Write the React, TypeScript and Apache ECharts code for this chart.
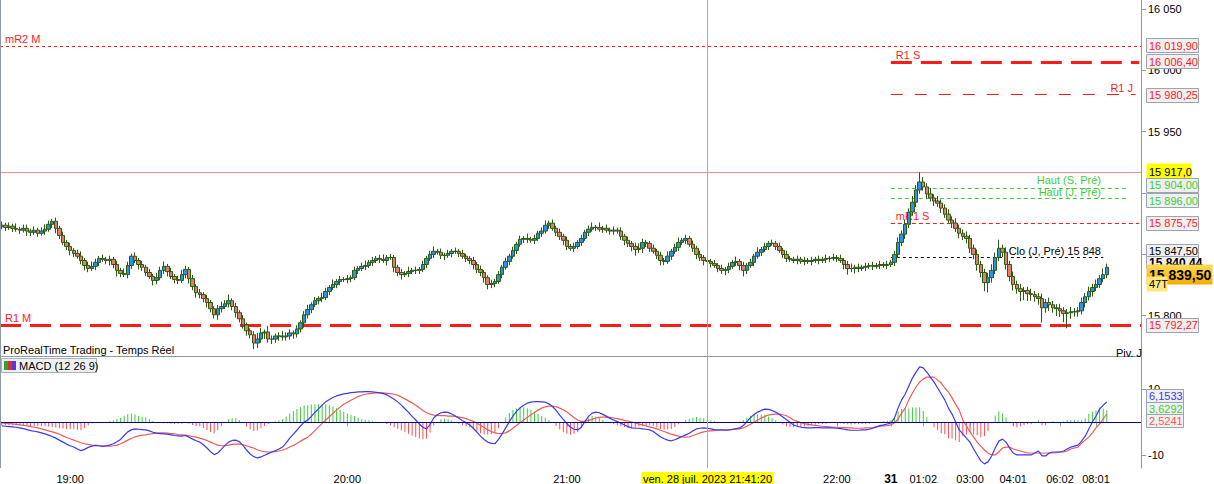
import React, { useEffect, useRef } from "react";
import * as echarts from "echarts";

// ---------------- DATA ----------------
const slotCount = 317;
const firstOpen = 15872.5;
const closes = [
  15873.75, 15872, 15873, 15871.25, 15870.5, 15869.75, 15871.25, 15869, 15868, 15869.75,
  15867.25, 15869, 15870.5, 15874.5, 15877, 15871.25, 15865.5, 15859.75, 15856.5, 15853.25,
  15850.75, 15848.5, 15845, 15841, 15838.5, 15840.25, 15843.5, 15846.75, 15846, 15845,
  15846, 15841.75, 15837, 15834.5, 15833.5, 15841, 15848.5, 15845, 15841.75, 15839.5,
  15835.25, 15832, 15828.75, 15831, 15837, 15840.25, 15836, 15832, 15829.5, 15828.75,
  15833.5, 15837.75, 15830.25, 15823.75, 15818.75, 15817.25, 15814, 15810.75, 15805.75, 15800.75,
  15805.75, 15807.5, 15809.75, 15812.25, 15807.5, 15802.5, 15797.5, 15792.5, 15787.75, 15784.5,
  15777.75, 15781, 15786, 15786.75, 15781, 15781, 15783.5, 15783.5, 15782.75, 15783.5,
  15786, 15785.25, 15789.25, 15794.25, 15800.75, 15805, 15809, 15812.25, 15814, 15814.75,
  15819.75, 15823, 15825.5, 15828, 15829.5, 15829.5, 15830.25, 15831, 15837, 15838.5,
  15840.25, 15841, 15843.5, 15845, 15846.75, 15846, 15845, 15847.5, 15847.5, 15839.5,
  15835.25, 15833.5, 15834.5, 15836, 15837, 15837, 15837.75, 15841.75, 15846.75, 15850,
  15852.5, 15851.75, 15849.25, 15849.25, 15850.75, 15852.5, 15852.5, 15850.75, 15848.5, 15846.75,
  15845, 15841.75, 15837.75, 15835.25, 15831, 15825.5, 15826.25, 15828, 15833.5, 15839.5,
  15844.25, 15848.5, 15853.25, 15858.25, 15862.25, 15863, 15862.25, 15861.5, 15863, 15867.25,
  15869, 15873.75, 15875.5, 15871.25, 15868, 15864.75, 15861.5, 15856.5, 15855, 15856.5,
  15859.75, 15863, 15868, 15870.5, 15872, 15872, 15870.5, 15871.25, 15869.75, 15869,
  15869.75, 15869, 15864.75, 15861.5, 15859, 15856.5, 15854, 15855, 15859.75, 15859,
  15855, 15852.5, 15849.25, 15845, 15844.25, 15848.5, 15852.5, 15855.75, 15859.75, 15861.5,
  15863, 15858.25, 15855, 15850, 15847.5, 15845, 15844.25, 15842.5, 15841, 15838.5,
  15837, 15837.75, 15840.25, 15843.5, 15844.25, 15841, 15837, 15841, 15843.5, 15848.5,
  15851.75, 15854, 15856.5, 15859, 15859, 15856.5, 15853.25, 15850, 15846.75, 15846,
  15845, 15846, 15844.25, 15845, 15844.25, 15845, 15846, 15845, 15846, 15846.75,
  15846.75, 15847.5, 15846.75, 15845, 15841.75, 15838.5, 15838.5, 15839.5, 15838.5, 15839.5,
  15840.25, 15841, 15840.25, 15841, 15841.75, 15841, 15841.75, 15843.5, 15850, 15859.75,
  15866.5, 15874.5, 15884.5, 15892.5, 15902.5, 15909, 15905, 15899.25, 15896, 15893.5,
  15891.75, 15887.75, 15882.75, 15878, 15875.5, 15871.25, 15867.25, 15864.75, 15863, 15855,
  15850, 15841.75, 15835.25, 15827, 15831, 15837, 15847.5, 15855, 15851.75, 15841.75,
  15832, 15825.5, 15822, 15819.75, 15820.5, 15818, 15817.25, 15815.5, 15814, 15806.5,
  15810.75, 15809, 15806.5, 15805.75, 15804, 15801.75, 15802.5, 15803.25, 15803.25, 15804,
  15810.75, 15815.5, 15819.75, 15823, 15825.5, 15830.25, 15833.5, 15839.5,
];
const upWick = [
  3, 2, 3, 2, 4, 2, 3, 3, 2, 3, 2, 3, 4, 3, 2, 3, 2, 3, 2, 3,
  2, 3, 4, 2, 3, 4, 3, 2, 3, 2, 3, 2, 3, 2, 4, 3, 2, 3, 2, 3,
  2, 3, 2, 4, 3, 4, 2, 3, 2, 3, 4, 3, 2, 3, 2, 3, 2, 3, 2, 2,
  3, 4, 3, 5, 2, 3, 2, 3, 2, 2, 3, 5, 4, 2, 5, 3, 2, 3, 4, 3,
  3, 2, 3, 2, 3, 4, 2, 3, 2, 4, 3, 2, 4, 2, 3, 2, 3, 2, 3, 2,
  3, 4, 2, 3, 2, 3, 4, 2, 3, 2, 2, 3, 2, 4, 2, 3, 2, 3, 2, 3,
  4, 2, 3, 2, 3, 2, 3, 2, 3, 2, 2, 3, 2, 3, 2, 2, 3, 2, 3, 2,
  3, 2, 3, 2, 3, 2, 4, 2, 3, 2, 3, 4, 2, 3, 2, 3, 2, 3, 2, 3,
  2, 3, 2, 3, 4, 2, 4, 2, 3, 2, 3, 2, 3, 2, 3, 2, 3, 4, 3, 2,
  2, 3, 2, 3, 2, 4, 2, 3, 4, 2, 3, 2, 3, 2, 3, 2, 3, 2, 3, 2,
  3, 2, 3, 2, 4, 2, 3, 2, 3, 2, 4, 2, 3, 2, 3, 2, 3, 2, 3, 2,
  2, 3, 2, 3, 2, 3, 2, 3, 2, 3, 2, 3, 2, 3, 2, 3, 4, 2, 3, 2,
  3, 2, 3, 2, 3, 2, 3, 2, 3, 4, 3, 4, 3, 5, 4, 8, 4, 3, 5, 3,
  4, 3, 3, 4, 3, 4, 3, 3, 4, 3, 3, 4, 3, 3, 4, 5, 4, 7, 3, 4,
  3, 4, 3, 4, 3, 3, 4, 3, 3, 4, 3, 4, 3, 3, 4, 3, 3, 4, 3, 3,
  4, 3, 4, 3, 4, 3, 5, 3,
];
const dnWick = [
  2, 3, 2, 3, 2, 3, 2, 4, 3, 2, 3, 2, 3, 2, 3, 4, 3, 2, 3, 4,
  3, 2, 3, 4, 3, 2, 3, 3, 2, 3, 4, 3, 5, 3, 2, 3, 3, 2, 4, 3,
  3, 2, 4, 3, 2, 3, 4, 2, 3, 3, 2, 3, 4, 3, 4, 3, 3, 4, 3, 3,
  4, 3, 2, 3, 3, 4, 3, 3, 4, 3, 5, 4, 3, 5, 3, 4, 3, 4, 3, 3,
  3, 4, 3, 3, 4, 3, 3, 2, 3, 3, 2, 3, 2, 3, 3, 2, 3, 3, 2, 3,
  2, 3, 2, 3, 2, 3, 2, 4, 2, 4, 3, 4, 2, 3, 2, 3, 3, 2, 3, 2,
  3, 2, 3, 4, 2, 3, 2, 3, 2, 3, 3, 4, 3, 3, 4, 4, 3, 3, 2, 3,
  2, 3, 2, 3, 2, 3, 3, 2, 3, 2, 3, 2, 3, 2, 3, 3, 4, 3, 2, 3,
  2, 3, 2, 3, 2, 3, 2, 3, 2, 3, 3, 2, 3, 4, 3, 4, 5, 3, 4, 3,
  3, 2, 3, 4, 3, 2, 3, 2, 3, 2, 3, 2, 3, 4, 3, 4, 3, 3, 2, 3,
  3, 4, 3, 2, 3, 4, 5, 3, 2, 3, 2, 3, 2, 3, 2, 3, 2, 3, 3, 2,
  2, 3, 2, 3, 2, 3, 2, 3, 2, 3, 3, 2, 3, 2, 4, 5, 3, 4, 3, 2,
  3, 2, 3, 2, 3, 2, 3, 2, 3, 3, 3, 4, 3, 3, 4, 3, 3, 4, 3, 4,
  3, 4, 3, 3, 4, 3, 4, 3, 4, 4, 4, 5, 4, 7, 8, 4, 3, 3, 4, 4,
  4, 5, 4, 8, 7, 6, 5, 4, 5, 12, 4, 5, 4, 6, 5, 7, 12, 5, 4, 4,
  3, 4, 3, 4, 3, 3, 3, 3,
];
const macdLine = [
  -1.1, -1.2, -1.3, -1.4, -1.5, -1.7, -1.9, -2.2, -2.5, -2.7,
  -2.9, -3.2, -3.5, -3.9, -4.3, -4.8, -5.4, -6.0, -6.6, -7.1,
  -7.5, -8.1, -8.6, -8.2, -7.6, -7.2, -7.0, -7.1, -7.3, -7.1,
  -6.9, -6.5, -5.9, -5.2, -4.0, -2.9, -2.3, -2.0, -2.1, -2.2,
  -2.3, -2.6, -3.0, -3.3, -3.4, -3.5, -3.6, -3.8, -4.0, -4.1,
  -4.2, -4.0, -4.5, -5.1, -5.6, -6.0, -6.8, -7.8, -8.9, -9.8,
  -9.3, -8.2, -7.0, -6.0, -5.5, -5.4, -5.9, -7.0, -8.4, -9.6,
  -10.4, -10.8, -10.5, -10.0, -9.5, -9.0, -8.6, -8.1, -7.5, -6.2,
  -4.8, -3.6, -2.4, -1.1, 0.0, 0.7, 1.8, 3.0, 4.1, 5.2,
  6.2, 6.9, 7.5, 8.0, 8.3, 8.6, 8.8, 9.0, 9.1, 9.2,
  9.2, 9.3, 9.3, 9.2, 9.1, 8.9, 8.7, 8.3, 7.7, 7.0,
  6.2, 5.2, 4.1, 3.0, 1.8, 0.7, -0.5, -1.5, -2.0, -0.6,
  1.3, 2.3, 2.9, 3.1, 3.0, 2.5, 1.9, 1.2, 0.5, -0.1,
  -0.8, -1.8, -3.0, -4.2, -5.2, -6.0, -6.4, -6.5, -5.2, -3.5,
  -1.7, 0.2, 1.9, 3.3, 4.4, 5.2, 5.8, 6.1, 6.3, 6.3,
  6.2, 6.1, 5.6, 4.8, 3.6, 2.2, 0.9, -0.4, -1.5, -2.1,
  -2.3, -1.5, 0.2, 1.8, 2.8, 3.1, 2.9, 2.4, 1.8, 1.2,
  0.7, 0.2, -0.3, -0.8, -1.3, -1.7, -1.8, -1.8, -2.0, -2.1,
  -2.3, -2.8, -3.6, -4.4, -5.0, -5.4, -5.6, -5.3, -4.8, -4.3,
  -3.8, -3.3, -2.6, -2.0, -1.8, -1.7, -1.8, -2.0, -2.2, -2.3,
  -2.3, -2.4, -2.3, -2.1, -1.9, -1.7, -1.0, 0.2, 1.4, 2.4,
  3.1, 3.6, 4.0, 3.9, 3.6, 3.1, 2.4, 1.6, 0.8, 0.0,
  -0.8, -1.2, -1.5, -1.6, -1.7, -1.7, -1.6, -1.6, -1.7, -1.7,
  -1.7, -1.7, -1.8, -1.9, -2.1, -2.3, -2.4, -2.4, -2.4, -2.3,
  -2.3, -2.1, -1.8, -1.4, -1.0, -0.8, -0.5, -0.2, 1.3, 4.3,
  6.8, 8.6, 11.0, 13.4, 15.2, 16.8, 16.5, 15.2, 13.7, 12.2,
  10.4, 8.6, 6.8, 4.3, 2.5, 0.1, -2.3, -3.5, -4.8, -6.0,
  -8.1, -9.9, -11.7, -12.6, -12.0, -10.2, -7.8, -5.7, -5.1, -6.0,
  -7.8, -9.3, -9.9, -9.9, -9.9, -9.9, -9.9, -9.3, -8.7, -10.2,
  -10.2, -9.3, -9.0, -9.0, -9.0, -8.7, -8.1, -7.5, -7.2, -6.9,
  -5.7, -4.2, -2.0, 0.1, 1.9, 4.0, 5.2, 6.1533,
];
const signalLine = [
  -0.2, -0.3, -0.4, -0.5, -0.6, -0.8, -0.9, -1.1, -1.3, -1.5,
  -1.7, -2.0, -2.3, -2.6, -2.9, -3.2, -3.6, -4.1, -4.6, -5.0,
  -5.4, -5.8, -6.2, -6.5, -6.7, -6.9, -7.0, -7.1, -7.2, -7.2,
  -7.2, -7.1, -6.9, -6.5, -6.0, -5.4, -4.9, -4.4, -4.1, -3.9,
  -3.8, -3.6, -3.4, -3.3, -3.2, -3.2, -3.3, -3.4, -3.5, -3.7,
  -3.8, -3.9, -4.1, -4.3, -4.5, -4.8, -5.1, -5.5, -6.0, -6.5,
  -6.9, -7.1, -7.1, -6.9, -6.7, -6.6, -6.6, -6.8, -7.1, -7.5,
  -7.8, -8.3, -8.7, -8.9, -9.0, -9.0, -8.9, -8.7, -8.4, -8.0,
  -7.5, -7.0, -6.4, -5.7, -5.1, -4.5, -3.6, -2.5, -1.4, -0.3,
  0.7, 1.7, 2.7, 3.7, 4.6, 5.5, 6.1, 6.7, 7.2, 7.8,
  8.2, 8.5, 8.7, 8.8, 8.9, 8.9, 8.9, 8.8, 8.7, 8.5,
  8.2, 7.7, 7.1, 6.5, 5.9, 5.2, 4.4, 3.6, 2.9, 2.5,
  2.2, 2.1, 2.0, 2.0, 1.9, 1.9, 1.8, 1.6, 1.4, 1.1,
  0.7, 0.3, -0.3, -0.9, -1.6, -2.3, -2.8, -3.2, -3.4, -3.4,
  -3.2, -2.6, -1.8, -0.9, -0.1, 0.7, 1.5, 2.3, 3.0, 3.7,
  4.3, 4.7, 4.9, 4.9, 4.7, 4.3, 3.8, 3.1, 2.3, 1.4,
  0.7, 0.3, 0.3, 0.6, 0.9, 1.3, 1.5, 1.6, 1.6, 1.5,
  1.3, 1.1, 0.9, 0.6, 0.4, 0.1, -0.2, -0.5, -0.8, -1.1,
  -1.4, -1.7, -2.0, -2.4, -2.8, -3.2, -3.6, -3.9, -4.2, -4.4,
  -4.5, -4.4, -4.0, -3.6, -3.2, -2.9, -2.7, -2.6, -2.5, -2.4,
  -2.3, -2.3, -2.3, -2.2, -2.1, -2.0, -1.7, -1.2, -0.6, 0.0,
  0.7, 1.3, 1.8, 2.2, 2.4, 2.5, 2.5, 2.3, 2.0, 1.4,
  0.7, 0.3, -0.1, -0.4, -0.6, -0.8, -0.9, -1.1, -1.2, -1.3,
  -1.4, -1.5, -1.5, -1.6, -1.6, -1.7, -1.7, -1.8, -1.8, -1.8,
  -1.7, -1.7, -1.6, -1.4, -1.2, -1.1, -1.0, -0.8, -0.2, 1.0,
  2.8, 4.3, 6.8, 8.9, 10.7, 12.2, 13.1, 13.7, 13.7, 13.7,
  12.8, 11.9, 10.4, 9.2, 7.4, 5.5, 3.7, 0.7, -1.1, -2.9,
  -4.5, -6.0, -7.2, -8.4, -9.3, -9.9, -9.9, -9.0, -7.8, -7.5,
  -7.5, -8.1, -8.4, -8.7, -9.0, -9.3, -9.3, -9.3, -9.3, -9.3,
  -9.3, -9.3, -9.3, -9.2, -9.0, -9.0, -8.7, -8.1, -7.8, -7.5,
  -6.3, -5.4, -4.5, -3.2, -1.7, -0.5, 1.0, 2.5241,
];

const timeLabelIdx = [19, 96, 157, 232, 247, 256, 269, 281, 294, 304];
const timeLabels = ["19:00", "20:00", "21:00", "22:00", "31", "01:02", "03:00", "04:01", "06:02", "08:01"];
const priceTicks = [15800, 15850, 15900, 15950, 16000, 16050];
const macdTicks = [-10, 10];

const levelNames = ["mR2 M", "R1 S", "R1 J", "Haut (S, Pré)", "Haut (J, Pré)", "mR1 S", "Clo (J, Pré)", "R1 M"];
const levelValues = [16019.9, 16006.4, 15980.25, 15904.0, 15896.0, 15875.75, 15847.5, 15792.27];

const crossValue = 15917.0;
const crossIndex = 196;
const crossText = "ven. 28 juil. 2023 21:41:20";
const otherValue = 15840.44;
const barTickText = "47T";
const macdTitle = "MACD (12 26 9)";
const panelTitle = "ProRealTime Trading - Temps Réel";
const pivotText = "Piv. J";

// ---------------- HELPERS ----------------
const FONT = "'Liberation Sans', Arial, Helvetica, sans-serif";

function fr(v: number, d: number) {
  const s = Math.abs(v).toFixed(d);
  const [ip, dp] = s.split(".");
  const g = ip.replace(/\B(?=(\d{3})+(?!\d))/g, " ");
  return (v < 0 ? "-" : "") + g + (dp ? "," + dp : "");
}

const RED = "#ff1a1a";
const GREEN = "#3ccf3c";

export default function App() {
  const ref = useRef<HTMLDivElement>(null);

  useEffect(() => {
    const el = ref.current!;
    const chart = echarts.init(el, null, { renderer: "svg" });

    const cats = Array.from({ length: slotCount }, (_, i) => String(i));
    const labelMap: Record<string, string> = {};
    timeLabelIdx.forEach((idx, k) => (labelMap[String(idx)] = timeLabels[k]));

    const candles = closes.map((c, i) => {
      const o = i === 0 ? firstOpen : closes[i - 1];
      const hi = Math.max(o, c) + upWick[i];
      const lo = Math.min(o, c) - dnWick[i];
      return [o, c, lo, hi];
    });
    const hist = macdLine.map((m, i) => +(m - signalLine[i]).toFixed(4));

    const startIdx = timeLabelIdx[4];
    const levelStyle = [
      { color: RED, width: 1, type: [3, 3], from: null, to: null },
      { color: RED, width: 3, type: [21, 9], from: startIdx, to: slotCount - 1 },
      { color: RED, width: 1, type: [12, 12], from: startIdx, to: slotCount - 2 },
      { color: GREEN, width: 1, type: [4, 3], from: startIdx, to: slotCount - 4 },
      { color: GREEN, width: 1, type: [4, 3], from: startIdx, to: slotCount - 4 },
      { color: RED, width: 1, type: [4, 3], from: startIdx, to: slotCount - 1 },
      { color: "#000000", width: 1, type: [3, 3], from: startIdx, to: slotCount - 11 },
      { color: RED, width: 3, type: [21, 9], from: null, to: null },
    ];

    const markData: any[] = levelValues.map((v, k) => {
      const st = levelStyle[k];
      const ls = { color: st.color, width: st.width, type: st.type };
      if (st.from === null) return { yAxis: v, lineStyle: ls };
      return [
        { coord: [st.from, v], lineStyle: ls },
        { coord: [st.to, v] },
      ];
    });
    markData.push({ yAxis: crossValue, lineStyle: { color: "#f28b8b", width: 1, type: "solid" } });

    const gridLine = { show: true, lineStyle: { color: "#8e9ba7", width: 1 } };

    const option: any = {
      animation: false,
      backgroundColor: "#ffffff",
      textStyle: { fontFamily: FONT },
      grid: [
        { left: 0, right: 73, top: 0, height: 356, outerBoundsMode: "none", containLabel: false },
        { left: 0, right: 73, top: 357, height: 111, outerBoundsMode: "none", containLabel: false },
      ],
      xAxis: [
        {
          type: "category", gridIndex: 0, data: cats, boundaryGap: true,
          axisLine: gridLine, axisTick: { show: false }, axisLabel: { show: false }, splitLine: { show: false },
        },
        {
          type: "category", gridIndex: 1, data: cats, boundaryGap: true,
          axisLine: { show: true, lineStyle: { color: "#8e9ba7", width: 1, type: [2, 2] } },
          axisTick: {
            show: true, length: 4, alignWithLabel: true,
            interval: (i: number) => labelMap[String(i)] !== undefined,
            lineStyle: { color: "#8e9ba7" },
          },
          axisLabel: {
            interval: (i: number) => labelMap[String(i)] !== undefined,
            formatter: (v: string) => {
              const t = labelMap[v] || "";
              return t === timeLabels[4] ? "{b|" + t + "}" : t;
            },
            rich: { b: { fontWeight: "bold", fontSize: 12, fontFamily: FONT, color: "#000" } },
            color: "#000", fontSize: 11, fontFamily: FONT, margin: 5,
          },
          splitLine: { show: false },
        },
      ],
      yAxis: [
        {
          type: "value", gridIndex: 0, position: "right", min: 15767.2, max: 16057.3, scale: true,
          axisLine: gridLine,
          axisTick: { show: true, length: 5, customValues: priceTicks, lineStyle: { color: "#8e9ba7" } },
          axisLabel: {
            customValues: priceTicks, formatter: (v: number) => fr(v, 0),
            color: "#000", fontSize: 11, fontFamily: FONT, margin: 7,
          },
          splitLine: { show: false },
        },
        {
          type: "value", gridIndex: 1, position: "right", min: -13.85, max: 19.8,
          axisLine: gridLine,
          axisTick: { show: true, length: 5, customValues: macdTicks, lineStyle: { color: "#8e9ba7" } },
          axisLabel: {
            customValues: macdTicks, formatter: (v: number) => fr(v, 0),
            color: "#000", fontSize: 11, fontFamily: FONT, margin: 7,
          },
          splitLine: { show: false },
        },
      ],
      series: [
        {
          type: "candlestick", xAxisIndex: 0, yAxisIndex: 0, data: candles, barWidth: 4, z: 3,
          itemStyle: {
            color: "#2b93e6", color0: "#e0806c",
            borderColor: "#2c5a10", borderColor0: "#2c5a10", borderWidth: 1,
          },
          markLine: {
            silent: true, symbol: ["none", "none"], animation: false,
            label: { show: false }, emphasis: { disabled: true },
            data: markData, z: 2,
          },
        },
        {
          type: "bar", xAxisIndex: 1, yAxisIndex: 1, barWidth: 1, z: 2,
          data: hist.map((h) => ({ value: h, itemStyle: { color: h >= 0 ? "#3ccc3c" : "#ff4d4d" } })),
          markLine: {
            silent: true, symbol: ["none", "none"], label: { show: false },
            lineStyle: { color: "#00008b", width: 1.2, type: "solid" },
            data: [{ yAxis: 0 }], z: 6,
          },
        },
        {
          type: "line", xAxisIndex: 1, yAxisIndex: 1, data: signalLine, symbol: "none", z: 4,
          lineStyle: { color: "#f05a5a", width: 1.2 },
        },
        {
          type: "line", xAxisIndex: 1, yAxisIndex: 1, data: macdLine, symbol: "none", z: 5,
          lineStyle: { color: "#3a3af0", width: 1.2 },
        },
      ],
    };

    chart.setOption(option);

    const py = (v: number) => chart.convertToPixel({ yAxisIndex: 0 } as any, v) as number;
    const my = (v: number) => chart.convertToPixel({ yAxisIndex: 1 } as any, v) as number;
    const px = (i: number) => chart.convertToPixel({ xAxisIndex: 0 } as any, i) as number;

    const G: any[] = [];
    const text = (x: number, y: number, t: string, fill: string, o: any = {}) => ({
      type: "text", x, y, z: o.z ?? 40, silent: true,
      style: {
        text: t, fill, font: `${o.weight || "normal"} ${o.size || 11}px ${FONT}`,
        textAlign: o.align || "left", textVerticalAlign: "middle", verticalAlign: "middle",
      },
    });
    let zc = 60;
    const box = (x: number, yc: number, w: number, h: number, fill: any, stroke: string | null, t: string, color: string, o: any = {}) => {
      zc += 2;
      G.push({
        type: "rect", z: zc, silent: true,
        shape: { x: x + 0.5, y: Math.round(yc - h / 2) + 0.5, width: w, height: h },
        style: { fill, stroke: stroke || "none", lineWidth: 1 },
      });
      G.push(text(x + 3, yc + 0.5, t, color, { ...o, z: zc + 1 }));
    };

    // left frame + crosshair
    G.push({ type: "line", z: 30, silent: true, shape: { x1: 0.5, y1: 0, x2: 0.5, y2: 468 }, style: { stroke: "#8e9ba7", lineWidth: 1 } });
    const cx = Math.round(px(crossIndex)) + 0.5;
    G.push({ type: "line", z: 30, silent: true, shape: { x1: cx, y1: 0, x2: cx, y2: 468 }, style: { stroke: "#f28b8b", lineWidth: 1 } });

    // level labels on the chart
    const labelPos = [
      { x: 5, dy: -7, align: "left" },
      { x: px(startIdx) + 5, dy: -7.5, align: "left" },
      { x: 1133, dy: -7, align: "right" },
      { x: 1101, dy: -8, align: "right" },
      { x: 1101, dy: -6, align: "right" },
      { x: px(startIdx) + 5, dy: -7, align: "left", z: 1 },
      { x: 1101, dy: -6, align: "right" },
      { x: 5, dy: -7, align: "left" },
    ];
    levelNames.forEach((n, k) => {
      const st = levelStyle[k];
      const t = k === 6 ? n + " " + fr(Math.round(levelValues[k]), 0) : n;
      const p = labelPos[k];
      G.push(text(p.x, py(levelValues[k]) + p.dy, t, st.color, { align: p.align, z: p.z ?? 40 }));
    });

    G.push(text(3, 350, panelTitle, "#000", { size: 11 }));
    G.push(text(1116, 353, pivotText, "#000", { size: 11 }));

    // MACD legend
    G.push({ type: "rect", z: 40, silent: true, shape: { x: 1.5, y: 358.5, width: 95, height: 14 }, style: { fill: "#eef0f4", stroke: "#a8b0bc", lineWidth: 1 } });
    G.push({ type: "rect", z: 41, silent: true, shape: { x: 4, y: 361, width: 4, height: 9 }, style: { fill: "#3c9c3c" } });
    G.push({ type: "rect", z: 41, silent: true, shape: { x: 8, y: 361, width: 4, height: 9 }, style: { fill: "#d83030" } });
    G.push({ type: "rect", z: 41, silent: true, shape: { x: 12, y: 361, width: 4, height: 9 }, style: { fill: "#5a3ad6" } });
    G.push(text(19, 366, macdTitle, "#000", { z: 42 }));

    // right-side value boxes (price pane)
    const boxDy = [-0.7, -1.3, 0, -3.6, 2.5, 0, -6.5, -0.7];
    [0, 1, 2].forEach((k) => box(1146, py(levelValues[k]) + boxDy[k], 52, 14, "#f0f0f0", "#9aa5b1", fr(levelValues[k], 2), levelStyle[k].color));
    box(1146, py(crossValue) - 1, 45, 16, "#ffff00", null, fr(crossValue, 1), "#000");
    [3, 4, 5, 6].forEach((k) => box(1146, py(levelValues[k]) + boxDy[k], 52, 14, "#f0f0f0", "#9aa5b1", fr(levelValues[k], 2), levelStyle[k].color));
    box(1146, py(otherValue) - 4, 52, 12, "#f0f0f0", "#9aa5b1", fr(otherValue, 2), "#000", { weight: "bold", size: 12 });
    const last = closes[closes.length - 1];
    const grad = new echarts.graphic.LinearGradient(0, 0, 0, 1, [
      { offset: 0, color: "#ffdc55" },
      { offset: 1, color: "#f5aa00" },
    ]);
    box(1146, py(last) + 7, 66, 20, grad, null, fr(last, 2), "#000", { weight: "bold", size: 14 });
    box(1146, py(last) + 16, 21, 15, "#ffe680", null, barTickText, "#000", { size: 11 });
    box(1146, py(levelValues[7]) + boxDy[7], 52, 14, "#f0f0f0", "#9aa5b1", fr(levelValues[7], 2), levelStyle[7].color);

    // MACD boxes
    const lm = macdLine[macdLine.length - 1];
    const ls = signalLine[signalLine.length - 1];
    const lh = hist[hist.length - 1];
    box(1146, my(lm) - 6.5, 37, 13, "#f0f0f0", "#9aa5b1", fr(lm, 4), "#3a3af0");
    box(1146, my(lh) - 2, 37, 13, "#f0f0f0", "#9aa5b1", fr(lh, 4), "#3ccc3c");
    box(1146, my(ls) + 7, 37, 13, "#f0f0f0", "#9aa5b1", fr(ls, 4), "#f05a5a");

    // crosshair time label
    G.push({ type: "rect", z: 70, silent: true, shape: { x: cx - 66, y: 472, width: 132, height: 14 }, style: { fill: "#ffff00" } });
    G.push(text(cx, 478.5, crossText, "#000", { align: "center", z: 71 }));

    chart.setOption({ graphic: { elements: G } });

    return () => chart.dispose();
  }, []);

  return (
    <div
      ref={ref}
      style={{ position: "fixed", left: 0, top: 0, width: 1214, height: 484, background: "#fff" }}
    />
  );
}
